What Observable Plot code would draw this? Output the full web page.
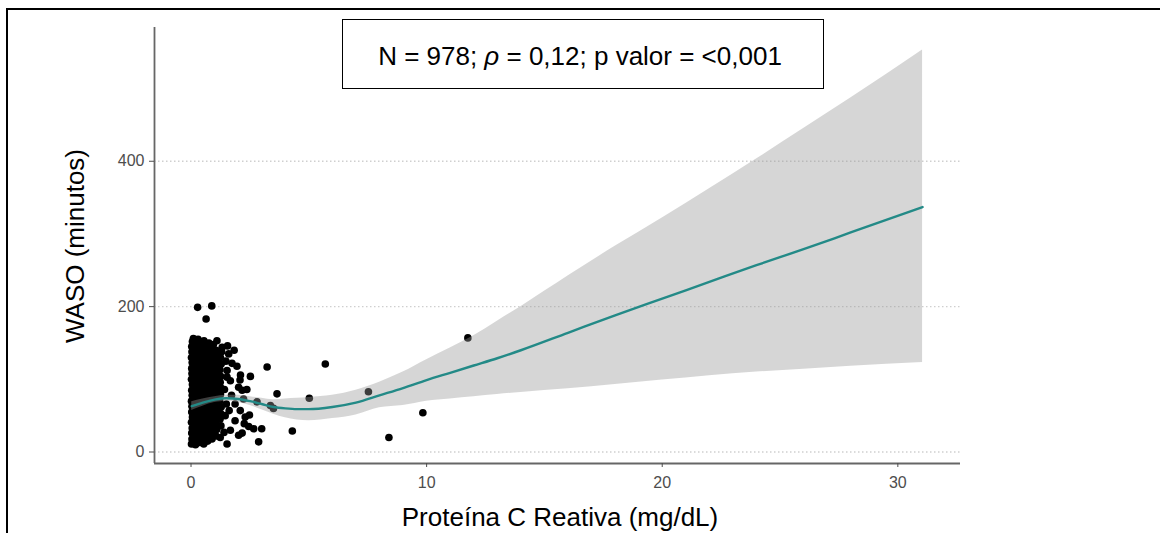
<!DOCTYPE html>
<html lang="pt">
<head>
<meta charset="utf-8">
<title>WASO vs Proteína C Reativa</title>
<script src="https://cdn.jsdelivr.net/npm/d3@7"></script>
<script src="https://cdn.jsdelivr.net/npm/@observablehq/plot@0.6"></script>
<style>
  html, body { margin: 0; padding: 0; background: #fff; }
  #fig {
    position: relative; width: 1160px; height: 533px; overflow: hidden;
    background: #fff; font-family: "Liberation Sans", Arial, sans-serif; color: #000;
  }
  #chart { position: absolute; left: 0; top: 0; }
  .frame-top { position: absolute; left: 7px; top: 8px; right: 0; height: 2px; background: #000; }
  .frame-left { position: absolute; left: 6px; top: 8px; bottom: 0; width: 2px; background: #000; }
  .stat-box {
    position: absolute; left: 342px; top: 19px; width: 482px; height: 70px;
    box-sizing: border-box; border: 1.3px solid #000; background: #fff;
    display: flex; align-items: center; justify-content: center;
    font-size: 26px; line-height: 1; padding-top: 4px; padding-right: 6px;
  }
  .stat-box span { white-space: pre; }
  .x-title {
    position: absolute; left: 560px; top: 517px; transform: translate(-50%, -50%);
    font-size: 26px; line-height: 1; white-space: nowrap;
  }
  .y-title {
    position: absolute; left: 75px; top: 246px; transform: translate(-50%, -50%) rotate(-90deg);
    font-size: 26px; line-height: 1; white-space: nowrap;
  }
</style>
</head>
<body>
<div id="fig">
  <div class="frame-top"></div>
  <div class="frame-left"></div>
  <div id="chart"></div>
  <div class="stat-box"><span id="stat"></span></div>
  <div class="x-title" id="xtitle"></div>
  <div class="y-title" id="ytitle"></div>
</div>
<script>
// Axis titles and statistics of the correlation
const xTitle = "Proteína C Reativa (mg/dL)";
const yTitle = "WASO (minutos)";
const nObs = "978";
const rho = "0,12";
const pValor = "<0,001";

// Tick values
const xTicks = [0, 10, 20, 30];
const yTicks = [0, 200, 400];

// Observations: [PCR (mg/dL), WASO (minutos)]
const pontos = [
  // dense cluster at low PCR
  [0.02,11],[0.04,18],[0.03,26],[0.05,33],[0.02,41],[0.06,48],[0.03,55],[0.04,63],[0.02,70],[0.05,78],
  [0.03,85],[0.06,93],[0.02,100],[0.04,108],[0.03,115],[0.05,123],[0.02,130],[0.04,138],[0.03,145],[0.06,152],[0.1,156],
  [0.19,10],[0.21,17],[0.17,25],[0.22,32],[0.18,40],[0.2,47],[0.23,55],[0.16,62],[0.21,69],[0.19,77],
  [0.24,84],[0.17,92],[0.2,99],[0.22,107],[0.18,114],[0.21,122],[0.19,129],[0.23,137],[0.17,144],[0.22,151],[0.3,155],
  [0.37,13],[0.4,21],[0.36,29],[0.39,36],[0.41,44],[0.35,51],[0.38,59],[0.42,66],[0.37,74],[0.4,81],
  [0.36,89],[0.39,96],[0.41,104],[0.35,111],[0.38,119],[0.42,126],[0.37,134],[0.4,141],[0.36,148],
  [0.54,11],[0.57,19],[0.53,27],[0.56,35],[0.58,42],[0.52,50],[0.55,57],[0.57,65],[0.54,72],[0.56,80],
  [0.53,87],[0.58,95],[0.55,102],[0.52,110],[0.57,117],[0.54,125],[0.56,132],[0.53,140],[0.58,147],[0.55,153],
  [0.71,15],[0.74,23],[0.7,31],[0.73,38],[0.75,46],[0.69,53],[0.72,61],[0.74,68],[0.71,76],[0.73,84],
  [0.7,91],[0.75,99],[0.72,106],[0.69,114],[0.74,121],[0.71,129],[0.73,136],[0.7,143],[0.76,150],
  [0.89,18],[0.92,26],[0.88,34],[0.91,42],[0.93,50],[0.87,57],[0.9,65],[0.92,72],[0.89,80],[0.91,88],
  [0.88,95],[0.93,103],[0.9,110],[0.87,118],[0.92,125],[0.89,133],[0.91,141],[0.95,148],
  [1.06,22],[1.09,31],[1.05,39],[1.08,47],[1.1,55],[1.04,63],[1.07,71],[1.09,78],[1.06,86],[1.08,94],
  [1.05,101],[1.1,109],[1.07,117],[1.04,124],[1.09,132],[1.06,140],[1.1,153],
  [1.24,20],[1.27,36],[1.23,45],[1.26,53],[1.28,62],[1.22,70],[1.25,79],[1.27,88],[1.24,96],[1.26,104],
  [1.23,113],[1.28,121],[1.25,130],[1.3,138],[1.32,144],
  // sparser points around the cluster
  [1.4,27],[1.53,11],[1.45,50],[1.5,66],[1.42,86],[1.53,103],[1.53,112],[1.48,125],[1.6,135],[1.55,146],
  [1.67,98],[1.67,30],[1.72,78],[1.74,122],[1.83,140],[1.87,66],[1.87,43],[1.62,57],[1.95,118],[2.02,89],
  [2.02,23],[2.09,57],[2.08,99],[2.1,106],[2.17,85],[2.23,73],[2.3,48],[2.37,86],[2.17,26],[2.26,39],
  [2.45,35],[2.48,51],[2.52,104],[2.66,32],[2.8,69],[2.87,14],[3.0,32],[3.23,117],[3.37,64],[3.5,60],[3.65,80],
  // isolated values
  [0.28,199],[0.88,201],[0.64,183],[4.3,29],[5.02,74],[5.7,121],[7.53,83],[8.4,20],[9.84,54],[11.75,157]
];

// Smoothed fit with its confidence band
const faixaX   = [0.03, 0.5, 1, 1.5, 2, 2.5, 3, 3.5, 4, 4.5, 5, 6, 7, 8, 9, 10, 11, 12, 13, 14, 16, 18, 20, 22, 24, 26, 28, 31.05];
const ajuste   = [63, 68, 72, 74, 73, 70, 66, 62, 60, 59, 59, 62, 68, 78, 88, 99, 109, 119, 129, 140, 164, 188, 211, 234, 257, 279, 302, 337];
const inferior = [57, 63, 68, 70, 68, 64, 58, 52, 47, 44, 43, 46, 51, 61, 64, 70, 73, 76, 79, 82, 87, 93, 99, 105, 110, 114, 118, 123];
const superior = [69, 73, 76, 78, 78, 76, 74, 72, 73, 74, 75, 78, 85, 96, 110, 127, 143, 160, 180, 200, 242, 283, 322, 362, 403, 445, 487, 553];

const faixa = faixaX.map((x, i) => ({x, fit: ajuste[i], lo: inferior[i], hi: superior[i]}));

const xDomain = [-1.55, 32.66];
const yDomain = [-15.8, 584];

const chart = Plot.plot({
  width: 1160,
  height: 533,
  marginLeft: 154,
  marginRight: 200,
  marginTop: 27,
  marginBottom: 70,
  x: {domain: xDomain},
  y: {domain: yDomain},
  style: {fontFamily: "'Liberation Sans', Arial, sans-serif", background: "transparent", overflow: "visible"},
  marks: [
    Plot.ruleY(yTicks, {stroke: "#cfcfcf", strokeWidth: 1.3, strokeDasharray: "1.5,2.5"}),
    Plot.dot(pontos, {x: (d) => d[0], y: (d) => d[1], r: 3.8, fill: "#000", stroke: "none"}),
    Plot.areaY(faixa, {x: "x", y1: "lo", y2: "hi", fill: "#999999", fillOpacity: 0.4, curve: "monotone-x"}),
    Plot.line(faixa, {x: "x", y: "fit", stroke: "#238a87", strokeWidth: 2.4, curve: "monotone-x"}),
    Plot.ruleX([xDomain[0]], {stroke: "#666", strokeWidth: 1.8}),
    Plot.ruleY([yDomain[0]], {stroke: "#666", strokeWidth: 1.8}),
    Plot.axisX({ticks: xTicks, tickSize: 4, tickPadding: 9, fontSize: 16, label: null, color: "#4d4d4d"}),
    Plot.axisY({ticks: yTicks, tickSize: 5, tickPadding: 5, fontSize: 16, label: null, color: "#4d4d4d"})
  ]
});
document.getElementById("chart").append(chart);

document.getElementById("xtitle").textContent = xTitle;
document.getElementById("ytitle").textContent = yTitle;
const stat = document.getElementById("stat");
stat.append(`N = ${nObs}; `);
const rhoEl = document.createElement("i");
rhoEl.textContent = "ρ";
stat.append(rhoEl, ` = ${rho}; p valor = ${pValor}`);
</script>
</body>
</html>
